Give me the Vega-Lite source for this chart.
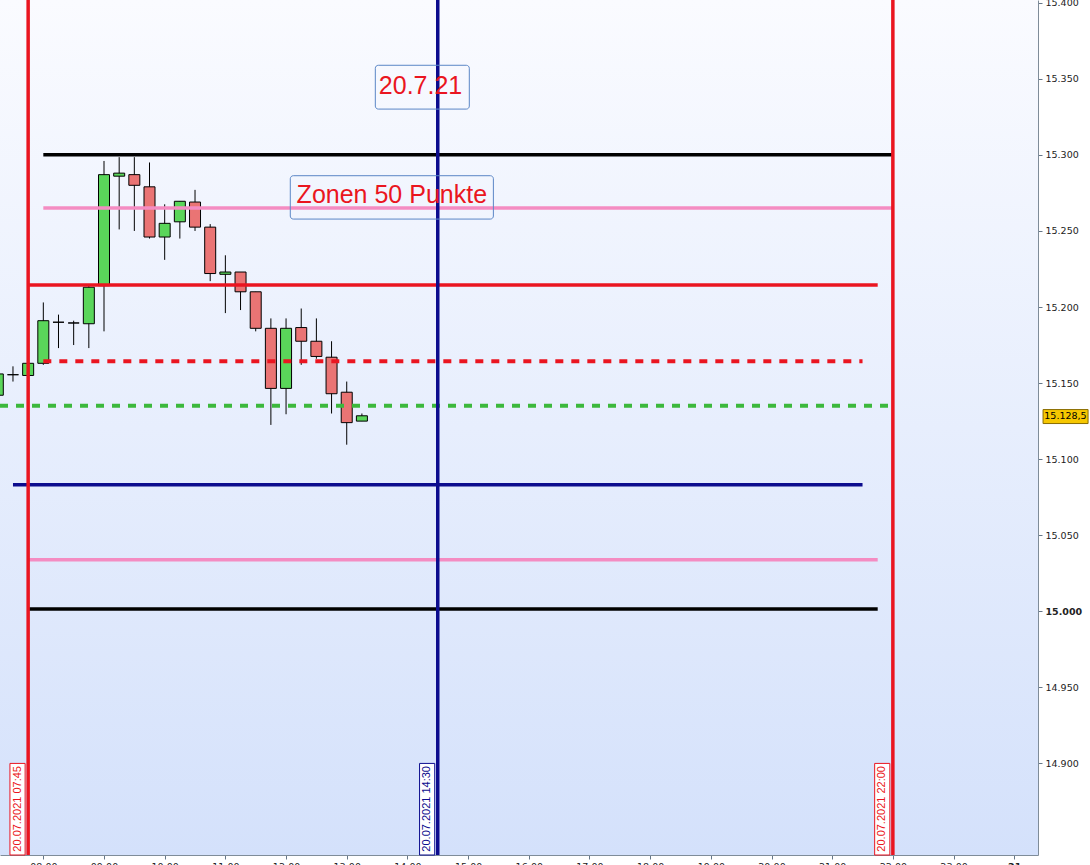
{
  "$schema": "https://vega.github.io/schema/vega-lite/v6.json",
  "width": 1038,
  "height": 855,
  "autosize": "none",
  "padding": {"left": 0, "top": 0, "right": 52, "bottom": 10},
  "background": "white",
  "config": {
    "view": {"stroke": null},
    "axis": {"grid": false, "title": null}
  },
  "datasets": {
    "candles": [
      {"t": "2021-07-20T07:15:00", "open": 15142, "high": 15158, "low": 15140, "close": 15156},
      {"t": "2021-07-20T07:30:00", "open": 15155.5, "high": 15161, "low": 15151, "close": 15155.5},
      {"t": "2021-07-20T07:45:00", "open": 15155, "high": 15163, "low": 15155, "close": 15163},
      {"t": "2021-07-20T08:00:00", "open": 15163, "high": 15203, "low": 15162, "close": 15191},
      {"t": "2021-07-20T08:15:00", "open": 15190, "high": 15195, "low": 15173, "close": 15190},
      {"t": "2021-07-20T08:30:00", "open": 15189.5, "high": 15191, "low": 15175, "close": 15189.5},
      {"t": "2021-07-20T08:45:00", "open": 15189, "high": 15214, "low": 15173, "close": 15213},
      {"t": "2021-07-20T09:00:00", "open": 15214, "high": 15296, "low": 15184, "close": 15287},
      {"t": "2021-07-20T09:15:00", "open": 15286, "high": 15298.5, "low": 15251, "close": 15288},
      {"t": "2021-07-20T09:30:00", "open": 15287, "high": 15298.5, "low": 15250, "close": 15280},
      {"t": "2021-07-20T09:45:00", "open": 15279, "high": 15295, "low": 15245, "close": 15246},
      {"t": "2021-07-20T10:00:00", "open": 15246, "high": 15267.5, "low": 15231, "close": 15255},
      {"t": "2021-07-20T10:15:00", "open": 15256, "high": 15269.5, "low": 15245, "close": 15269.5},
      {"t": "2021-07-20T10:30:00", "open": 15269, "high": 15277, "low": 15250, "close": 15252.5},
      {"t": "2021-07-20T10:45:00", "open": 15252.5, "high": 15254.5, "low": 15217, "close": 15222},
      {"t": "2021-07-20T11:00:00", "open": 15221.5, "high": 15234, "low": 15196, "close": 15223},
      {"t": "2021-07-20T11:15:00", "open": 15223, "high": 15223, "low": 15198, "close": 15210},
      {"t": "2021-07-20T11:30:00", "open": 15210, "high": 15210, "low": 15184, "close": 15186},
      {"t": "2021-07-20T11:45:00", "open": 15186, "high": 15192.5, "low": 15122.5, "close": 15146.5},
      {"t": "2021-07-20T12:00:00", "open": 15146.5, "high": 15192.5, "low": 15129.5, "close": 15186},
      {"t": "2021-07-20T12:15:00", "open": 15186.5, "high": 15199, "low": 15162, "close": 15177.5},
      {"t": "2021-07-20T12:30:00", "open": 15177.5, "high": 15192.5, "low": 15166, "close": 15167.5},
      {"t": "2021-07-20T12:45:00", "open": 15167, "high": 15177.5, "low": 15130, "close": 15143},
      {"t": "2021-07-20T13:00:00", "open": 15144, "high": 15151, "low": 15109.5, "close": 15124},
      {"t": "2021-07-20T13:15:00", "open": 15125, "high": 15130, "low": 15125, "close": 15128.5}
    ],
    "levels": [
      {"name": "Hoch", "price": 15300, "from": "2021-07-20T08:00:00", "to": "2021-07-20T22:00:00"},
      {"name": "Zone oben", "price": 15265, "from": "2021-07-20T08:00:00", "to": "2021-07-20T22:00:00"},
      {"name": "Widerstand", "price": 15214.5, "from": "2021-07-20T07:45:00", "to": "2021-07-20T21:45:00"},
      {"name": "Mitte", "price": 15164.3, "from": "2021-07-20T08:00:00", "to": "2021-07-20T21:30:00"},
      {"name": "Kurs", "price": 15135.1, "from": "2021-07-20T07:17:10", "to": "2021-07-20T22:00:00"},
      {"name": "Unterstützung", "price": 15083.1, "from": "2021-07-20T07:30:00", "to": "2021-07-20T21:30:00"},
      {"name": "Zone unten", "price": 15033.8, "from": "2021-07-20T07:45:00", "to": "2021-07-20T21:45:00"},
      {"name": "Tief", "price": 15001.5, "from": "2021-07-20T07:45:00", "to": "2021-07-20T21:45:00"}
    ],
    "stamps": [
      {"name": "Start", "label": "20.07.2021 07:45", "t": "2021-07-20T07:45:00", "from": "2021-07-20T07:27:00", "to": "2021-07-20T07:42:00", "mid": "2021-07-20T07:34:30"},
      {"name": "Jetzt", "label": "20.07.2021 14:30", "t": "2021-07-20T14:30:00", "from": "2021-07-20T14:12:00", "to": "2021-07-20T14:27:00", "mid": "2021-07-20T14:19:30"},
      {"name": "Ende", "label": "20.07.2021 22:00", "t": "2021-07-20T22:00:00", "from": "2021-07-20T21:42:00", "to": "2021-07-20T21:57:00", "mid": "2021-07-20T21:49:30"}
    ],
    "notes": [
      {"text": "20.7.21", "t": "2021-07-20T14:13:00", "price": 15340, "from": "2021-07-20T13:28:16", "to": "2021-07-20T15:01:12", "top": 15358.9, "bottom": 15330.1},
      {"text": "Zonen 50 Punkte", "t": "2021-07-20T13:44:35", "price": 15268.2, "from": "2021-07-20T12:04:12", "to": "2021-07-20T15:25:00", "top": 15286.3, "bottom": 15257.8}
    ],
    "quote": [
      {"label": "15.128,5", "price": 15128.5, "t": "2021-07-21T00:50:40", "from": "2021-07-21T00:28:30", "to": "2021-07-21T01:13:00", "top": 15132.6, "bottom": 15123.4}
    ],
    "frame": [
      {"from": "2021-07-20T07:17:10", "to": "2021-07-21T00:23:30", "top": 15401.8, "bottom": 14839.8}
    ]
  },
  "layer": [
    {
      "data": {"name": "frame"},
      "mark": {
        "type": "rect",
        "color": {
          "gradient": "linear",
          "x1": 0, "y1": 0, "x2": 0, "y2": 1,
          "stops": [
            {"offset": 0, "color": "#fafbff"},
            {"offset": 1, "color": "#d4e1fb"}
          ]
        }
      },
      "encoding": {
        "x": {
          "field": "from", "type": "temporal",
          "scale": {"domain": [{"year": 2021, "month": 7, "date": 20, "hours": 7, "minutes": 17, "seconds": 10}, {"year": 2021, "month": 7, "date": 21, "hours": 0, "minutes": 23, "seconds": 30}], "nice": false, "padding": 0},
          "axis": {
            "orient": "bottom",
            "values": [
              {"year": 2021, "month": 7, "date": 20, "hours": 8},
              {"year": 2021, "month": 7, "date": 20, "hours": 9},
              {"year": 2021, "month": 7, "date": 20, "hours": 10},
              {"year": 2021, "month": 7, "date": 20, "hours": 11},
              {"year": 2021, "month": 7, "date": 20, "hours": 12},
              {"year": 2021, "month": 7, "date": 20, "hours": 13},
              {"year": 2021, "month": 7, "date": 20, "hours": 14},
              {"year": 2021, "month": 7, "date": 20, "hours": 15},
              {"year": 2021, "month": 7, "date": 20, "hours": 16},
              {"year": 2021, "month": 7, "date": 20, "hours": 17},
              {"year": 2021, "month": 7, "date": 20, "hours": 18},
              {"year": 2021, "month": 7, "date": 20, "hours": 19},
              {"year": 2021, "month": 7, "date": 20, "hours": 20},
              {"year": 2021, "month": 7, "date": 20, "hours": 21},
              {"year": 2021, "month": 7, "date": 20, "hours": 22},
              {"year": 2021, "month": 7, "date": 20, "hours": 23},
              {"year": 2021, "month": 7, "date": 21, "hours": 0}
            ],
            "labelExpr": "timeFormat(datum.value, '%H') == '00' ? timeFormat(datum.value, '%e') : timeFormat(datum.value, '%H:%M')",
            "labelFontWeight": {"condition": {"test": "timeFormat(datum.value, '%H') == '00'", "value": "bold"}, "value": "normal"},
            "labelFont": "DejaVu Sans",
            "labelFontSize": 9.5,
            "labelColor": "#222222",
            "labelOverlap": false,
            "labelPadding": 2,
            "tickSize": 4,
            "tickColor": "#667788",
            "domainColor": "#7f8c99"
          }
        },
        "x2": {"field": "to"},
        "y": {
          "field": "top", "type": "quantitative",
          "scale": {"domain": [14839.8, 15401.8], "nice": false, "zero": false, "padding": 0},
          "axis": {
            "orient": "right",
            "values": [14900, 14950, 15000, 15050, 15100, 15150, 15200, 15250, 15300, 15350, 15400],
            "labelExpr": "floor(datum.value / 1000) + '.' + format(datum.value % 1000, '03d')",
            "labelFontWeight": {"condition": {"test": "datum.value == 15000", "value": "bold"}, "value": "normal"},
            "labelFont": "DejaVu Sans",
            "labelFontSize": 9.5,
            "labelColor": "#222222",
            "labelPadding": 3,
            "tickSize": 4,
            "tickColor": "#667788",
            "domainColor": "#7f8c99"
          }
        },
        "y2": {"field": "bottom"}
      }
    },
    {
      "data": {"name": "candles"},
      "mark": {"type": "rule", "color": "#000000", "strokeWidth": 1},
      "encoding": {
        "x": {"field": "t", "type": "temporal"},
        "y": {"field": "low", "type": "quantitative"},
        "y2": {"field": "high"}
      }
    },
    {
      "data": {"name": "candles"},
      "mark": {"type": "bar", "size": 11, "stroke": "#000000", "strokeWidth": 1},
      "encoding": {
        "x": {"field": "t", "type": "temporal"},
        "y": {"field": "open", "type": "quantitative"},
        "y2": {"field": "close"},
        "color": {
          "condition": {"test": "datum.close > datum.open", "value": "#5ad65a"},
          "value": "#ea7474"
        }
      }
    },
    {
      "data": {"name": "levels"},
      "transform": [{"filter": "datum.name != 'Mitte' && datum.name != 'Kurs'"}],
      "mark": {"type": "rule", "strokeWidth": 3.5},
      "encoding": {
        "x": {"field": "from", "type": "temporal"},
        "x2": {"field": "to"},
        "y": {"field": "price", "type": "quantitative"},
        "color": {
          "field": "name", "type": "nominal", "legend": null,
          "scale": {
            "domain": ["Hoch", "Zone oben", "Widerstand", "Mitte", "Kurs", "Unterstützung", "Zone unten", "Tief", "Start", "Jetzt", "Ende"],
            "range": ["#000000", "#f48cc2", "#ea1520", "#ea1520", "#3cb83c", "#0c0c8e", "#f48cc2", "#000000", "#ea1520", "#0c0c8e", "#ea1520"]
          }
        }
      }
    },
    {
      "data": {"name": "levels"},
      "transform": [{"filter": "datum.name == 'Mitte' || datum.name == 'Kurs'"}],
      "mark": {"type": "rule", "strokeWidth": 4, "strokeDash": [8, 8]},
      "encoding": {
        "x": {"field": "from", "type": "temporal"},
        "x2": {"field": "to"},
        "y": {"field": "price", "type": "quantitative"},
        "color": {"field": "name", "type": "nominal", "legend": null}
      }
    },
    {
      "data": {"name": "stamps"},
      "mark": {"type": "rule", "strokeWidth": 3.5},
      "encoding": {
        "x": {"field": "t", "type": "temporal"},
        "color": {"field": "name", "type": "nominal", "legend": null}
      }
    },
    {
      "data": {"name": "stamps"},
      "mark": {"type": "rect", "fill": "white", "strokeWidth": 1},
      "encoding": {
        "x": {"field": "from", "type": "temporal"},
        "x2": {"field": "to"},
        "y": {"datum": 14900, "type": "quantitative"},
        "y2": {"datum": 14839.8},
        "stroke": {
          "field": "name", "type": "nominal", "legend": null,
          "scale": {"domain": ["Start", "Jetzt", "Ende"], "range": ["#ea1520", "#0c0c8e", "#ea1520"]}
        }
      }
    },
    {
      "data": {"name": "stamps"},
      "mark": {"type": "text", "angle": 270, "align": "left", "baseline": "middle", "font": "Liberation Sans", "fontSize": 11},
      "encoding": {
        "x": {"field": "mid", "type": "temporal"},
        "y": {"datum": 14842, "type": "quantitative"},
        "text": {"field": "label", "type": "nominal"},
        "color": {"field": "name", "type": "nominal", "legend": null}
      }
    },
    {
      "data": {"name": "notes"},
      "mark": {"type": "rect", "filled": false, "stroke": "#5a86c6", "strokeWidth": 1, "cornerRadius": 3},
      "encoding": {
        "x": {"field": "from", "type": "temporal"},
        "x2": {"field": "to"},
        "y": {"field": "top", "type": "quantitative"},
        "y2": {"field": "bottom"}
      }
    },
    {
      "data": {"name": "notes"},
      "mark": {"type": "text", "align": "center", "baseline": "alphabetic", "font": "Liberation Sans", "fontSize": 25, "color": "#ea1520"},
      "encoding": {
        "x": {"field": "t", "type": "temporal"},
        "y": {"field": "price", "type": "quantitative"},
        "text": {"field": "text", "type": "nominal"}
      }
    },
    {
      "data": {"name": "quote"},
      "mark": {"type": "rect", "fill": "#f6c700", "stroke": "#8a6d00", "strokeWidth": 1},
      "encoding": {
        "x": {"field": "from", "type": "temporal"},
        "x2": {"field": "to"},
        "y": {"field": "top", "type": "quantitative"},
        "y2": {"field": "bottom"}
      }
    },
    {
      "data": {"name": "quote"},
      "mark": {"type": "text", "align": "center", "baseline": "middle", "font": "DejaVu Sans", "fontSize": 9.5, "color": "#000000"},
      "encoding": {
        "x": {"field": "t", "type": "temporal"},
        "y": {"field": "price", "type": "quantitative"},
        "text": {"field": "label", "type": "nominal"}
      }
    }
  ]
}
